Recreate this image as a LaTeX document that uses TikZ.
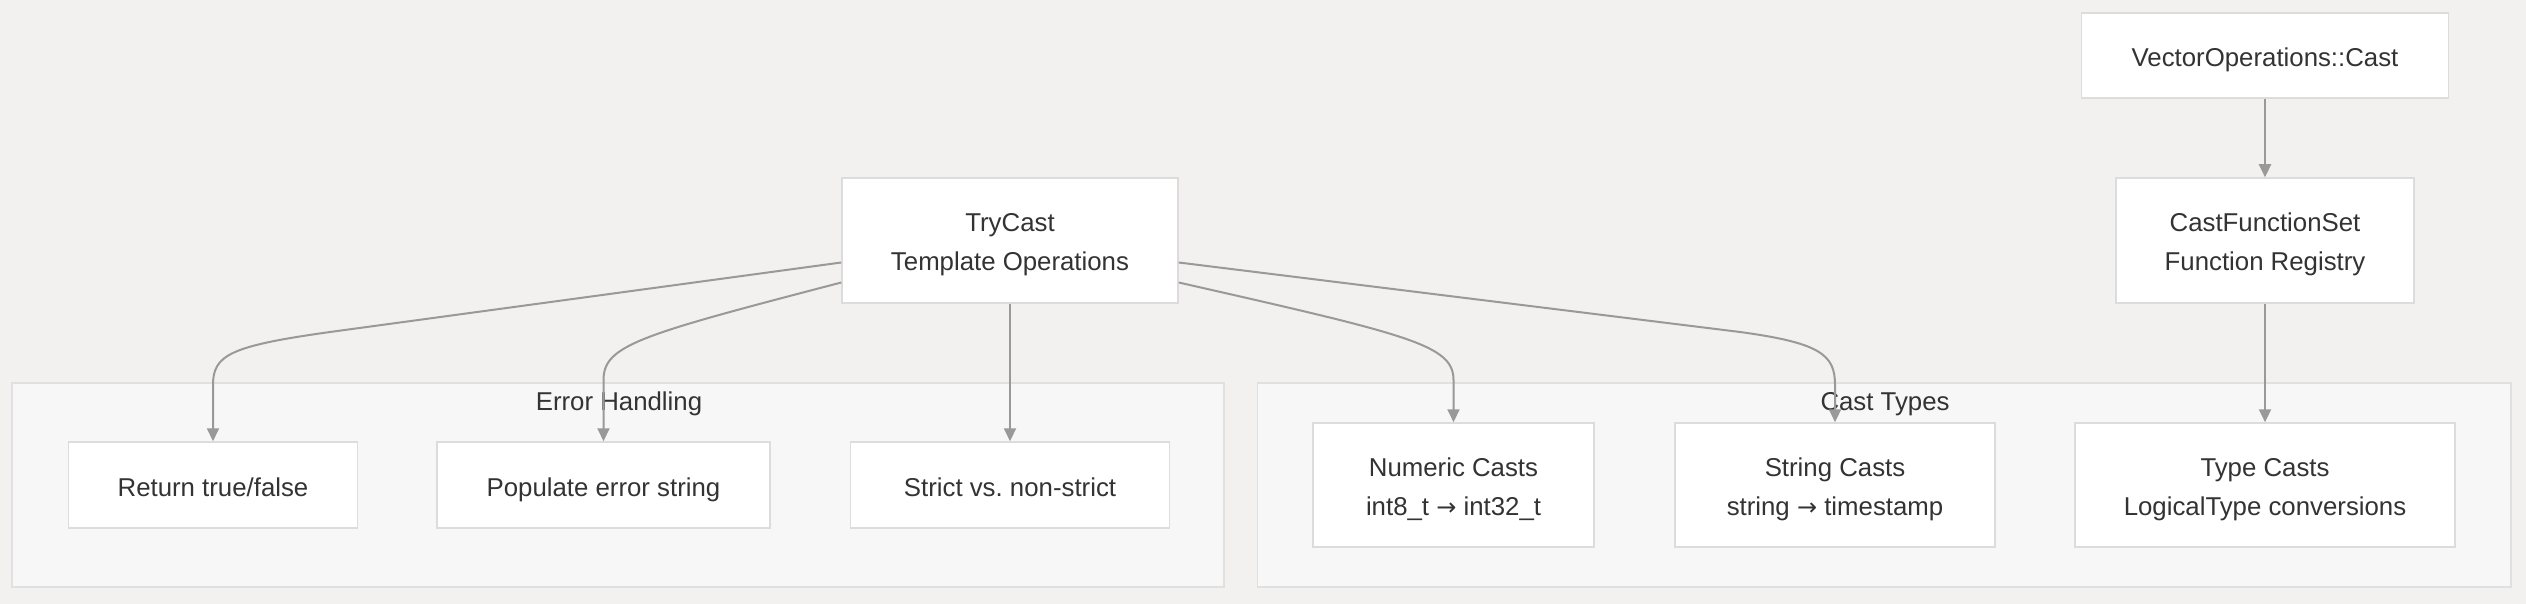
\documentclass[tikz,border=0pt]{standalone}
\usepackage{fontspec}
\setmainfont{Liberation Sans}
\newfontfamily\arrfont{DejaVu Sans}
\usetikzlibrary{arrows.meta,calc}
\definecolor{bg}{HTML}{F2F1EF}
\definecolor{clfill}{HTML}{F7F7F7}
\definecolor{clline}{HTML}{E0E0E0}
\definecolor{nodeline}{HTML}{DCDCDC}
\definecolor{edgecol}{HTML}{999999}
\definecolor{txt}{HTML}{333333}
\frenchspacing
\newcommand{\myarr}{{\arrfont\fontsize{24}{24}\selectfont →}}
\newcommand{\onel}[1]{\rule{0pt}{28pt}#1\rule[-6pt]{0pt}{6pt}}
\newcommand{\twol}[2]{\rule{0pt}{28pt}#1\\#2\rule[-6.5pt]{0pt}{6.5pt}}
\begin{document}
\begin{tikzpicture}[x=1pt,y=-1pt,
  box/.style={draw=nodeline, line width=1.5pt, fill=white, inner sep=0pt, align=center, text=txt, font=\fontsize{25.8}{39}\selectfont\frenchspacing},
  cluster/.style={draw=clline, line width=1.5pt, fill=clfill, inner sep=0pt},
  lbl/.style={text=txt, font=\fontsize{25.8}{31}\selectfont, inner sep=0pt},
  conn/.style={draw=edgecol, line width=2pt, -{Triangle[length=13pt,width=12pt]}}]
\fill[bg] (0,0) rectangle (2526,604);
\useasboundingbox (0,0) rectangle (2526,604);
% clusters
\node[cluster, minimum width=1212pt, minimum height=204pt] (eh) at (618,485) {};
\node[lbl] (ehl) at (619,404) {Error Handling};
\node[cluster, minimum width=1253.5pt, minimum height=204pt] (ct) at (1884.25,485) {};
\node[lbl] (ctl) at (1885,404) {Cast Types};
% nodes
\node[box, minimum width=367pt, minimum height=85pt] (vec) at (2265,55.5) {\onel{VectorOperations::Cast}};
\node[box, minimum width=298pt, minimum height=125pt] (cfs) at (2265,240.5) {\twol{CastFunctionSet}{Function Registry}};
\node[box, minimum width=336pt, minimum height=125pt] (try) at (1010,240.5) {\twol{TryCast}{Template Operations}};
\node[box, minimum width=289pt, minimum height=86pt] (ret) at (213,485) {\onel{Return true/false}};
\node[box, minimum width=333pt, minimum height=86pt] (pop) at (603.5,485) {\onel{Populate error string}};
\node[box, minimum width=319pt, minimum height=86pt] (str) at (1010,485) {\onel{Strict vs. non-strict}};
\node[box, minimum width=281pt, minimum height=124pt] (num) at (1453.5,485) {\twol{Numeric Casts}{int8\_t \myarr{} int32\_t}};
\node[box, minimum width=320pt, minimum height=124pt] (strc) at (1835,485) {\twol{String Casts}{string \myarr{} timestamp}};
\node[box, minimum width=380pt, minimum height=124pt] (typ) at (2265,485) {\twol{Type Casts}{LogicalType conversions}};
% edges
\draw[conn] (vec) -- (cfs);
\draw[conn] (cfs) -- (typ);
\draw[conn] (try) -- (str);
\draw[conn] ($(try.west)+(0,22)$) -- (330,332) .. controls (230,346) and (213,355) .. (213,385) -- (ret.north);
\draw[conn] ($(try.west)+(0,42)$) .. controls (640,335) and (603.5,345) .. (603.5,380) -- (pop.north);
\draw[conn] ($(try.east)+(0,42)$) .. controls (1410,335) and (1453.5,345) .. (1453.5,380) -- (num.north);
\draw[conn] ($(try.east)+(0,22)$) -- (1740,332) .. controls (1821,343) and (1835,355) .. (1835,385) -- (strc.north);
\end{tikzpicture}
\end{document}
